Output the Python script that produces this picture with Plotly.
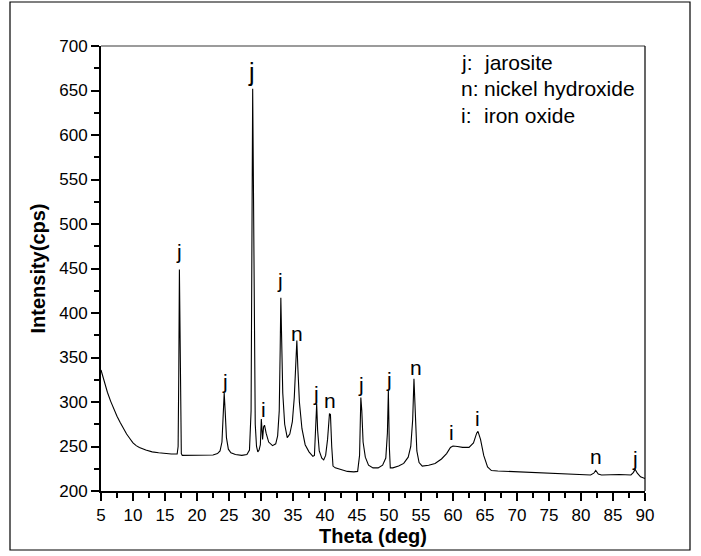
import plotly.graph_objects as go

# 2-theta (deg) and intensity (cps)
theta = [5.0, 5.5, 6.0, 6.5, 7.0, 7.5, 8.0, 8.5, 9.0, 9.5, 10.0, 10.5, 11.0, 12.0, 13.0, 14.0, 15.0, 16.0, 16.9,
         17.05, 17.15, 17.25, 17.35, 17.45, 17.55, 17.7, 19.0, 21.0, 22.5, 23.2, 23.6, 23.9, 24.1, 24.25, 24.4,
         24.6, 24.9, 25.3, 26.0, 27.0, 27.8, 28.2, 28.45, 28.6, 28.7, 28.8, 28.95, 29.1, 29.3, 29.5, 29.7, 29.9,
         30.05, 30.15, 30.25, 30.4, 30.55, 30.8, 31.2, 31.8, 32.3, 32.6, 32.85, 33.0, 33.1, 33.2, 33.4, 33.7,
         34.1, 34.5, 34.9, 35.2, 35.45, 35.6, 35.75, 36.0, 36.4, 36.9, 37.5, 38.1, 38.35, 38.55, 38.7, 38.85,
         39.1, 39.5, 39.8, 40.1, 40.4, 40.7, 40.85, 41.05, 41.25, 41.6, 42.5, 43.5, 44.5, 45.1, 45.4, 45.6,
         45.75, 45.95, 46.3, 46.8, 47.5, 48.3, 49.0, 49.5, 49.75, 49.9, 50.05, 50.2, 50.6, 51.5, 52.3, 53.0,
         53.4, 53.7, 53.9, 54.1, 54.35, 54.7, 55.2, 56.2, 57.2, 58.2, 59.0, 59.6, 60.0, 60.7, 61.5, 62.5, 63.2,
         63.7, 63.9, 64.3, 64.8, 65.4, 66.0, 67.0, 70.0, 75.0, 78.0, 80.0, 81.5, 82.0, 82.3, 82.7, 83.2, 86.0,
         87.8, 88.2, 88.45, 88.8, 89.3, 90.0]
intensity = [336, 322, 311, 301, 292, 284, 277, 270, 264, 259, 254, 251, 249, 246, 244, 243, 242, 241.5, 241.5,
             250, 330, 449, 380, 290, 242, 240, 240, 240, 240.5, 242, 245, 255, 285, 310, 290,
             260, 247, 243, 241, 240, 241, 246, 290, 480, 652, 560, 380, 275, 250, 244, 246, 252,
             281, 262, 258, 272, 274, 265, 255, 251, 253, 262, 290, 360, 417, 380, 310, 275,
             260, 264, 278, 305, 345, 369, 340, 300, 270, 252, 244, 239, 240, 270, 298, 268,
             245, 237, 235, 240, 258, 287, 286, 250, 228, 226, 224, 222, 221.5, 222, 240, 305,
             290, 255, 238, 229, 226, 226, 229, 237, 265, 313, 250, 226, 226, 228, 231, 238,
             250, 280, 326, 280, 245, 232, 228, 229, 231, 236, 242, 249, 250.5, 250, 249, 249, 254,
             265, 267, 258, 240, 227, 223, 222.5, 221.5, 220, 219, 218, 218, 220, 223, 219, 218, 218.5,
             218, 221, 224.5, 220, 216, 214]

# peak labels
label_text = ["j", "j", "j", "i", "j", "n", "j", "n", "j", "j", "n", "i", "i", "n", "j"]
label_theta = [17.13, 24.3, 28.45, 30.33, 32.95, 35.68, 38.6, 40.73, 45.7, 50.05, 54.2, 59.8, 63.87, 82.35, 88.5]
label_int = [469, 323, 671, 292, 437, 377, 309.7, 301.5, 320, 325.5, 339, 265.5, 281.7, 239.2, 237]
label_size = [21, 21, 25, 21, 21, 21, 21, 21, 21, 21, 21, 21, 21, 21, 21]

# key
key_prefix = ["j:", "n:", "i:"]
key_words = ["jarosite", "nickel hydroxide", "iron oxide"]

FONT = "Liberation Sans, Arial, sans-serif"

fig = go.Figure()
fig.add_trace(go.Scatter(x=theta, y=intensity, mode="lines",
                         line=dict(color="black", width=1.1), showlegend=False,
                         hoverinfo="x+y"))

for t, xv, yv, s in zip(label_text, label_theta, label_int, label_size):
    fig.add_annotation(x=xv, y=yv, text=t, showarrow=False, xanchor="center", yanchor="middle",
                       font=dict(family=FONT, size=s, color="black"))

key_y = [682, 652, 621.5]
for p, w, yv in zip(key_prefix, key_words, key_y):
    fig.add_annotation(x=60.9, y=yv, text=p, showarrow=False, xanchor="left", yanchor="middle",
                       font=dict(family=FONT, size=21, color="black"))
    fig.add_annotation(x=64.6, y=yv, text=w, showarrow=False, xanchor="left", yanchor="middle",
                       font=dict(family=FONT, size=21, color="black"))

# top (grey) and right frame lines of the plot area
fig.add_shape(type="line", xref="paper", yref="paper", x0=0, x1=1, y0=1, y1=1,
              line=dict(color="#7a7a7a", width=1.5))
fig.add_shape(type="line", xref="paper", yref="paper", x0=1, x1=1, y0=0, y1=1,
              line=dict(color="black", width=1.2))
# outer border around the whole picture
fig.add_shape(type="rect", xref="paper", yref="paper",
              x0=(10 - 101) / 544, x1=(690 - 101) / 544,
              y0=(491 - 550) / 445, y1=(491 - 2) / 445,
              line=dict(color="black", width=1.2), fillcolor="rgba(0,0,0,0)")

fig.update_layout(
    width=701, height=556,
    margin=dict(l=101, r=56, t=46, b=65),
    paper_bgcolor="white", plot_bgcolor="white",
    font=dict(family=FONT, color="black"),
    xaxis=dict(range=[5, 90], tick0=5, dtick=5, showgrid=False, zeroline=False,
               showline=True, linecolor="black", linewidth=2,
               ticks="outside", ticklen=8, tickwidth=1.5, tickcolor="black",
               minor=dict(dtick=2.5, ticks="outside", ticklen=5, tickwidth=1.5, tickcolor="black"),
               tickfont=dict(size=17, family=FONT),
               title=dict(text="<b>Theta (deg)</b>", font=dict(size=20, family=FONT), standoff=4)),
    yaxis=dict(range=[200, 700], tick0=200, dtick=50, showgrid=False, zeroline=False,
               showline=True, linecolor="black", linewidth=2,
               ticks="outside", ticklen=8, tickwidth=1.5, tickcolor="black",
               minor=dict(dtick=25, ticks="outside", ticklen=5, tickwidth=1.5, tickcolor="black"),
               tickfont=dict(size=17, family=FONT),
               title=dict(text="<b>Intensity(cps)</b>", font=dict(size=20, family=FONT), standoff=8)),
)

fig.write_html("out.html", config={"displayModeBar": False},
               post_script="document.body.style.margin='0';document.body.style.overflow='hidden';")
